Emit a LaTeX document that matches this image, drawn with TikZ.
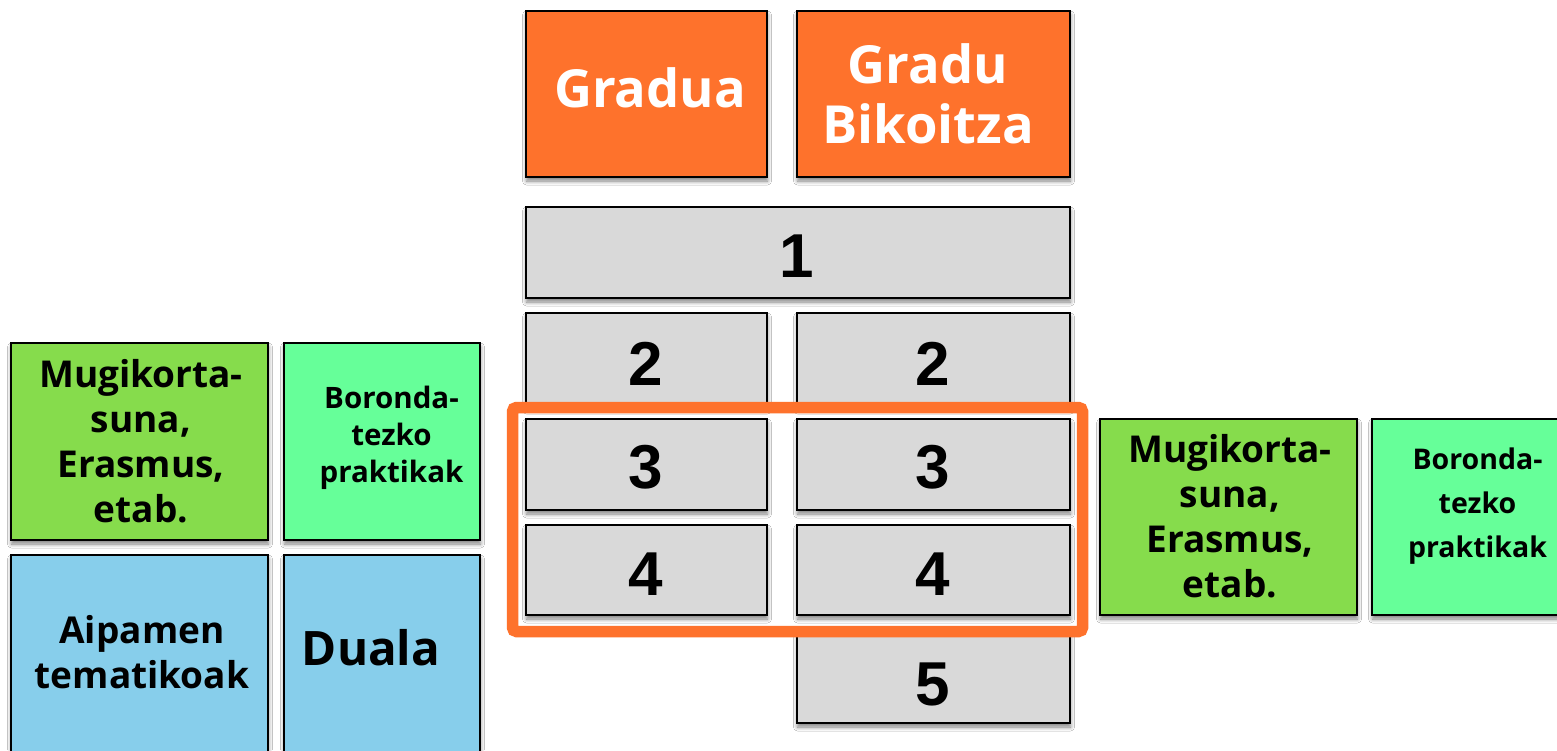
\documentclass[tikz,border=0pt]{standalone}
\usepackage{fontspec}
\setmainfont{Open Sans}
\newfontfamily\numfont{Liberation Sans}
\usetikzlibrary{shadows.blur}
\definecolor{orng}{RGB}{254,114,44}
\definecolor{grn}{RGB}{134,220,76}
\definecolor{lgrn}{RGB}{102,255,153}
\definecolor{skyb}{RGB}{135,206,235}
\definecolor{gry}{RGB}{217,217,217}
\tikzset{
  box/.style={draw=black, line width=1.8pt, inner sep=0pt, outer sep=0pt, anchor=north west,
    blur shadow={shadow blur steps=6, shadow xshift=0.5pt, shadow yshift=-4pt, shadow blur radius=4pt, shadow opacity=50}},
  obox/.style={box, fill=orng},
  gbox/.style={box, fill=gry},
  mbox/.style={box, fill=grn},
  lbox/.style={box, fill=lgrn},
  bbox/.style={box, fill=skyb},
  num/.style={inner sep=0pt, anchor=base, font=\numfont\bfseries\fontsize{62}{62}\selectfont},
  big/.style={inner sep=0pt, align=center, text=white, font=\bfseries\fontsize{52.5}{60}\selectfont},
  mid/.style={inner sep=0pt, align=center, font=\bfseries\fontsize{37}{45}\selectfont},
  sml/.style={inner sep=0pt, align=center, font=\bfseries\fontsize{29.5}{37}\selectfont},
}
\begin{document}
\begin{tikzpicture}[x=1pt, y=-1pt]
\useasboundingbox (0,0) rectangle (1557,750);
\fill[white] (0,0) rectangle (1557,750);
% top orange
\node[obox, minimum width=241pt, minimum height=166pt] (grad) at (526,11) {};
\node[obox, minimum width=273pt, minimum height=166pt] (bik) at (797,11) {};
\node[big, anchor=base] (gradt) at (650,107) {Gradua};
\node[big, anchor=center] (bikt) at (928,94) {Gradu\\Bikoitza};
% years
\node[gbox, minimum width=544pt, minimum height=91pt] (one) at (526,207) {};
\node[gbox, minimum width=241pt, minimum height=93pt] (twoL) at (526,313) {};
\node[gbox, minimum width=273pt, minimum height=93pt] (twoR) at (797,313) {};
\node[gbox, minimum width=273pt, minimum height=95pt] (five) at (797,628) {};
\draw[orng, line width=11.5pt, rounded corners=4pt] (512.5,407.5) rectangle (1082.5,631.5);
\node[gbox, minimum width=241pt, minimum height=91pt] (threeL) at (526,419) {};
\node[gbox, minimum width=273pt, minimum height=91pt] (threeR) at (797,419) {};
\node[gbox, minimum width=241pt, minimum height=90pt] (fourL) at (526,525) {};
\node[gbox, minimum width=273pt, minimum height=90pt] (fourR) at (797,525) {};
\node[num] (n1) at (797,277) {1};
\node[num] (n2L) at (646,385) {2};
\node[num] (n2R) at (933,385) {2};
\node[num] (n3L) at (646,488) {3};
\node[num] (n3R) at (933,488) {3};
\node[num] (n4L) at (646,595) {4};
\node[num] (n4R) at (933,595) {4};
\node[num] (n5) at (933,705) {5};
% left side
\node[mbox, minimum width=257pt, minimum height=197pt] (mugL) at (11,343) {};
\node[lbox, minimum width=196pt, minimum height=197pt] (borL) at (284,343) {};
\node[bbox, minimum width=257pt, minimum height=215pt] (aip) at (11,555) {};
\node[bbox, minimum width=196pt, minimum height=215pt] (dual) at (284,555) {};
\node[mid] (mugLt) at (141,441.5) {Mugikorta-\\suna,\\Erasmus,\\etab.};
\node[sml] (borLt) at (391.5,437.5) {Boronda-\\tezko\\praktikak};
\node[mid] (aipt) at (142,652.5) {Aipamen\\tematikoak};
\node[inner sep=0pt, anchor=base, font=\bfseries\fontsize{47.5}{47.5}\selectfont] (dualt) at (371,665) {Duala};
% right side
\node[mbox, minimum width=257pt, minimum height=196pt] (mugR) at (1100,419) {};
\node[lbox, minimum width=205pt, minimum height=196pt] (borR) at (1372,419) {};
\node[mid] (mugRt) at (1230,516.5) {Mugikorta-\\suna,\\Erasmus,\\etab.};
\node[inner sep=0pt, align=center, font=\bfseries\fontsize{28.5}{44}\selectfont] (borRt) at (1477.5,506) {Boronda-\\tezko\\praktikak};
\end{tikzpicture}
\end{document}
